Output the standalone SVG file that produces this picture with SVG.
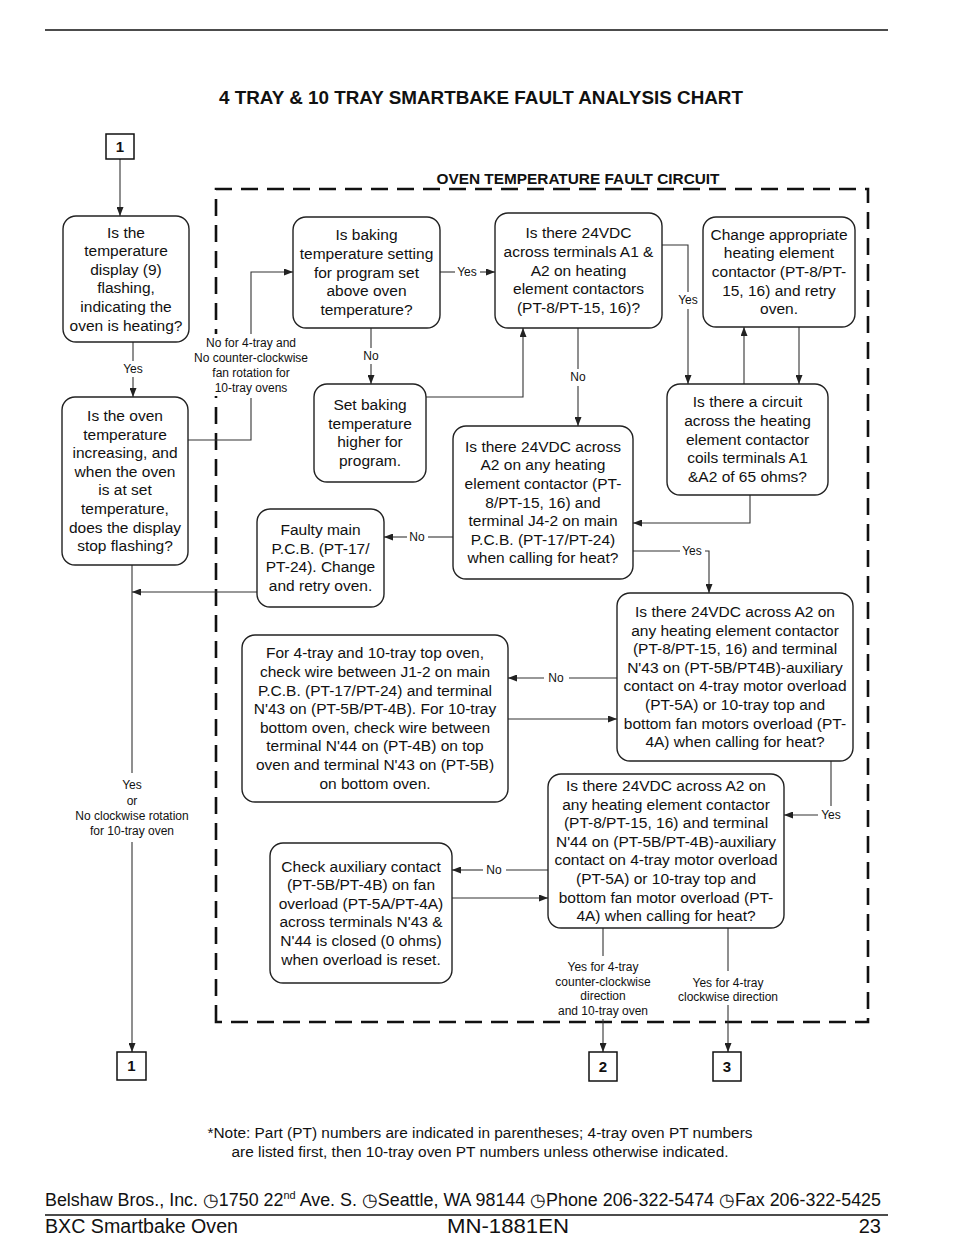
<svg xmlns="http://www.w3.org/2000/svg" width="954" height="1260" viewBox="0 0 954 1260">
<style>
text{font-family:"Liberation Sans",Arial,sans-serif;fill:#111}
.nt{font-size:15.5px;text-anchor:middle}
.lb{font-size:12px;text-anchor:middle}
.sl{font-size:12px;text-anchor:middle}
.node{fill:#fff;stroke:#222;stroke-width:1.4}
.term{fill:#fff;stroke:#111;stroke-width:1.5}
.tn{font-size:15px;font-weight:bold;text-anchor:middle}
.cn{fill:none;stroke:#333;stroke-width:1.1}
.dash{fill:none;stroke:#111;stroke-width:2.6;stroke-dasharray:17 9}
</style>
<defs>
<marker id="ah" viewBox="0 0 9 7" refX="9" refY="3.5" markerWidth="9" markerHeight="7" markerUnits="userSpaceOnUse" orient="auto">
<path d="M0,0 L9,3.5 L0,7 z" fill="#222"/>
</marker>
</defs>
<rect width="954" height="1260" fill="#fff"/>

<!-- header -->
<line x1="45" y1="30" x2="888" y2="30" stroke="#111" stroke-width="1.5"/>
<text x="481" y="104" font-size="18" font-weight="bold" text-anchor="middle" textLength="524" lengthAdjust="spacingAndGlyphs">4 TRAY &amp; 10 TRAY SMARTBAKE FAULT ANALYSIS CHART</text>

<!-- fault circuit boundary -->
<g id="circuit">
<path class="dash" d="M216,1022 V189 H868 V1022 Z"/>
<text x="578" y="184" font-size="15" font-weight="bold" text-anchor="middle" textLength="283" lengthAdjust="spacingAndGlyphs">OVEN TEMPERATURE FAULT CIRCUIT</text>
</g>

<!-- connectors -->
<g id="connectors">
<path class="cn" d="M120,159 V216" marker-end="url(#ah)"/>
<path class="cn" d="M133,342 V361"/>
<path class="cn" d="M133,377 V397" marker-end="url(#ah)"/>
<path class="cn" d="M188,440 H251 V398"/>
<path class="cn" d="M251,335 V272 H293" marker-end="url(#ah)"/>
<path class="cn" d="M440,272 H455"/>
<path class="cn" d="M480,272 H495" marker-end="url(#ah)"/>
<path class="cn" d="M371,328 V348"/>
<path class="cn" d="M371,364 V384" marker-end="url(#ah)"/>
<path class="cn" d="M426,397 H523 V328" marker-end="url(#ah)"/>
<path class="cn" d="M578,328 V369"/>
<path class="cn" d="M578,386 V426" marker-end="url(#ah)"/>
<path class="cn" d="M662,245 H688 V292"/>
<path class="cn" d="M688,309 V384" marker-end="url(#ah)"/>
<path class="cn" d="M744,384 V327" marker-end="url(#ah)"/>
<path class="cn" d="M799,327 V384" marker-end="url(#ah)"/>
<path class="cn" d="M750,495 V523 H633" marker-end="url(#ah)"/>
<path class="cn" d="M453,537 H428"/>
<path class="cn" d="M407,537 H384" marker-end="url(#ah)"/>
<path class="cn" d="M257,592 H132" marker-end="url(#ah)"/>
<path class="cn" d="M633,551 H680"/>
<path class="cn" d="M705,551 H709 V593" marker-end="url(#ah)"/>
<path class="cn" d="M617,678 H569"/>
<path class="cn" d="M544,678 H508" marker-end="url(#ah)"/>
<path class="cn" d="M508,719 H617" marker-end="url(#ah)"/>
<path class="cn" d="M831,761 V806"/>
<path class="cn" d="M818,815 H784" marker-end="url(#ah)"/>
<path class="cn" d="M548,870 H506"/>
<path class="cn" d="M483,870 H452" marker-end="url(#ah)"/>
<path class="cn" d="M452,898 H548" marker-end="url(#ah)"/>
<path class="cn" d="M132,565 V773"/>
<path class="cn" d="M132,842 V1052" marker-end="url(#ah)"/>
<path class="cn" d="M603,928 V956"/>
<path class="cn" d="M603,1019 V1052" marker-end="url(#ah)"/>
<path class="cn" d="M728,928 V971"/>
<path class="cn" d="M728,1005 V1052" marker-end="url(#ah)"/>

<rect x="186" y="334" width="130" height="62" fill="#fff"/>
<text class="sl"><tspan x="251" y="346.5">No for 4-tray and</tspan><tspan x="251" dy="15">No counter-clockwise</tspan><tspan x="251" dy="15">fan rotation for</tspan><tspan x="251" dy="15">10-tray ovens</tspan></text>
<text class="lb" x="133" y="373">Yes</text>
<text class="lb" x="371" y="360">No</text>
<text class="lb" x="467" y="276">Yes</text>
<text class="lb" x="688" y="304">Yes</text>
<text class="lb" x="578" y="381">No</text>
<text class="lb" x="417" y="541">No</text>
<text class="lb" x="692" y="555">Yes</text>
<text class="lb" x="556" y="682">No</text>
<text class="lb" x="831" y="819">Yes</text>
<text class="lb" x="494" y="874">No</text>
<text class="sl"><tspan x="132" y="789">Yes</tspan><tspan x="132" dy="16">or</tspan><tspan x="132" dy="14.5">No clockwise rotation</tspan><tspan x="132" dy="15">for 10-tray oven</tspan></text>
<text class="sl"><tspan x="603" y="970.5">Yes for 4-tray</tspan><tspan x="603" dy="15">counter-clockwise</tspan><tspan x="603" dy="14.5">direction</tspan><tspan x="603" dy="14.5">and 10-tray oven</tspan></text>
<text class="sl"><tspan x="728" y="986.5">Yes for 4-tray</tspan><tspan x="728" dy="14.5">clockwise direction</tspan></text>
</g>

<!-- terminals -->
<g id="t1top"><rect class="term" x="106" y="134" width="28" height="25"/><text class="tn" x="120" y="152">1</text></g>
<g id="t1bot"><rect class="term" x="117" y="1052" width="29" height="28"/><text class="tn" x="131.5" y="1071">1</text></g>
<g id="t2"><rect class="term" x="589" y="1052" width="28" height="29"/><text class="tn" x="603" y="1071.5">2</text></g>
<g id="t3"><rect class="term" x="713" y="1052" width="28" height="29"/><text class="tn" x="727" y="1071.5">3</text></g>

<!-- nodes -->
<g id="nA"><rect class="node" x="63" y="216" width="126" height="126" rx="13"/>
<text class="nt"><tspan x="126" y="237.5">Is the</tspan><tspan x="126" dy="18.6">temperature</tspan><tspan x="126" dy="18.6">display (9)</tspan><tspan x="126" dy="18.6">flashing,</tspan><tspan x="126" dy="18.6">indicating the</tspan><tspan x="126" dy="18.6">oven is heating?</tspan></text></g>

<g id="nB"><rect class="node" x="62" y="397" width="126" height="168" rx="13"/>
<text class="nt"><tspan x="125" y="420.9">Is the oven</tspan><tspan x="125" dy="18.6">temperature</tspan><tspan x="125" dy="18.6">increasing, and</tspan><tspan x="125" dy="18.6">when the oven</tspan><tspan x="125" dy="18.6">is at set</tspan><tspan x="125" dy="18.6">temperature,</tspan><tspan x="125" dy="18.6">does the display</tspan><tspan x="125" dy="18.6">stop flashing?</tspan></text></g>

<g id="nC"><rect class="node" x="293" y="217" width="147" height="111" rx="13"/>
<text class="nt"><tspan x="366.5" y="240.3">Is baking</tspan><tspan x="366.5" dy="18.6">temperature setting</tspan><tspan x="366.5" dy="18.6">for program set</tspan><tspan x="366.5" dy="18.6">above oven</tspan><tspan x="366.5" dy="18.6">temperature?</tspan></text></g>

<g id="nD"><rect class="node" x="495" y="213" width="167" height="115" rx="13"/>
<text class="nt"><tspan x="578.5" y="238.3">Is there 24VDC</tspan><tspan x="578.5" dy="18.6">across terminals A1 &amp;</tspan><tspan x="578.5" dy="18.6">A2 on heating</tspan><tspan x="578.5" dy="18.6">element contactors</tspan><tspan x="578.5" dy="18.6">(PT-8/PT-15, 16)?</tspan></text></g>

<g id="nF"><rect class="node" x="703" y="217" width="152" height="110" rx="13"/>
<text class="nt"><tspan x="779" y="239.8">Change appropriate</tspan><tspan x="779" dy="18.6">heating element</tspan><tspan x="779" dy="18.6">contactor (PT-8/PT-</tspan><tspan x="779" dy="18.6">15, 16) and retry</tspan><tspan x="779" dy="18.6">oven.</tspan></text></g>

<g id="nE"><rect class="node" x="667" y="384" width="161" height="111" rx="13"/>
<text class="nt"><tspan x="747.5" y="407.3">Is there a circuit</tspan><tspan x="747.5" dy="18.6">across the heating</tspan><tspan x="747.5" dy="18.6">element contactor</tspan><tspan x="747.5" dy="18.6">coils terminals A1</tspan><tspan x="747.5" dy="18.6">&amp;A2 of 65 ohms?</tspan></text></g>

<g id="nH"><rect class="node" x="314" y="384" width="112" height="98" rx="13"/>
<text class="nt"><tspan x="370" y="410.1">Set baking</tspan><tspan x="370" dy="18.6">temperature</tspan><tspan x="370" dy="18.6">higher for</tspan><tspan x="370" dy="18.6">program.</tspan></text></g>

<g id="nG"><rect class="node" x="453" y="426" width="180" height="153" rx="13"/>
<text class="nt"><tspan x="543" y="451.7">Is there 24VDC across</tspan><tspan x="543" dy="18.6">A2 on any heating</tspan><tspan x="543" dy="18.6">element contactor (PT-</tspan><tspan x="543" dy="18.6">8/PT-15, 16) and</tspan><tspan x="543" dy="18.6">terminal J4-2 on main</tspan><tspan x="543" dy="18.6">P.C.B. (PT-17/PT-24)</tspan><tspan x="543" dy="18.6">when calling for heat?</tspan></text></g>

<g id="nI"><rect class="node" x="257" y="509" width="127" height="98" rx="13"/>
<text class="nt"><tspan x="320.5" y="535.1">Faulty main</tspan><tspan x="320.5" dy="18.6">P.C.B. (PT-17/</tspan><tspan x="320.5" dy="18.6">PT-24). Change</tspan><tspan x="320.5" dy="18.6">and retry oven.</tspan></text></g>

<g id="nJ"><rect class="node" x="242" y="635" width="266" height="167" rx="13"/>
<text class="nt"><tspan x="375" y="658.4">For 4-tray and 10-tray top oven,</tspan><tspan x="375" dy="18.6">check wire between J1-2 on main</tspan><tspan x="375" dy="18.6">P.C.B. (PT-17/PT-24) and terminal</tspan><tspan x="375" dy="18.6">N'43 on (PT-5B/PT-4B). For 10-tray</tspan><tspan x="375" dy="18.6">bottom oven, check wire between</tspan><tspan x="375" dy="18.6">terminal N'44 on (PT-4B) on top</tspan><tspan x="375" dy="18.6">oven and terminal N'43 on (PT-5B)</tspan><tspan x="375" dy="18.6">on bottom oven.</tspan></text></g>

<g id="nK"><rect class="node" x="617" y="593" width="236" height="168" rx="13"/>
<text class="nt"><tspan x="735" y="616.9">Is there 24VDC across A2 on</tspan><tspan x="735" dy="18.6">any heating element contactor</tspan><tspan x="735" dy="18.6">(PT-8/PT-15, 16) and terminal</tspan><tspan x="735" dy="18.6">N'43 on (PT-5B/PT4B)-auxiliary</tspan><tspan x="735" dy="18.6">contact on 4-tray motor overload</tspan><tspan x="735" dy="18.6">(PT-5A) or 10-tray top and</tspan><tspan x="735" dy="18.6">bottom fan motors overload (PT-</tspan><tspan x="735" dy="18.6">4A) when calling for heat?</tspan></text></g>

<g id="nL"><rect class="node" x="548" y="774" width="236" height="154" rx="13"/>
<text class="nt"><tspan x="666" y="790.9">Is there 24VDC across A2 on</tspan><tspan x="666" dy="18.6">any heating element contactor</tspan><tspan x="666" dy="18.6">(PT-8/PT-15, 16) and terminal</tspan><tspan x="666" dy="18.6">N'44 on (PT-5B/PT-4B)-auxiliary</tspan><tspan x="666" dy="18.6">contact on 4-tray motor overload</tspan><tspan x="666" dy="18.6">(PT-5A) or 10-tray top and</tspan><tspan x="666" dy="18.6">bottom fan motor overload (PT-</tspan><tspan x="666" dy="18.6">4A) when calling for heat?</tspan></text></g>

<g id="nM"><rect class="node" x="270" y="843" width="182" height="140" rx="13"/>
<text class="nt"><tspan x="361" y="871.5">Check auxiliary contact</tspan><tspan x="361" dy="18.6">(PT-5B/PT-4B) on fan</tspan><tspan x="361" dy="18.6">overload (PT-5A/PT-4A)</tspan><tspan x="361" dy="18.6">across terminals N'43 &amp;</tspan><tspan x="361" dy="18.6">N'44 is closed (0 ohms)</tspan><tspan x="361" dy="18.6">when overload is reset.</tspan></text></g>

<!-- footer -->
<text x="480" y="1138" font-size="14" text-anchor="middle" textLength="545" lengthAdjust="spacingAndGlyphs">*Note: Part (PT) numbers are indicated in parentheses; 4-tray oven PT numbers</text>
<text x="480" y="1157" font-size="14" text-anchor="middle" textLength="497" lengthAdjust="spacingAndGlyphs">are listed first, then 10-tray oven PT numbers unless otherwise indicated.</text>
<text x="45" y="1206" font-size="18" textLength="836" lengthAdjust="spacingAndGlyphs">Belshaw Bros., Inc. ◷1750 22<tspan dy="-7" font-size="11">nd</tspan><tspan dy="7"> Ave. S. ◷Seattle, WA 98144 ◷Phone 206-322-5474 ◷Fax 206-322-5425</tspan></text>
<line x1="45" y1="1215" x2="888" y2="1215" stroke="#111" stroke-width="1.5"/>
<text x="45" y="1233" font-size="20" textLength="193" lengthAdjust="spacingAndGlyphs">BXC Smartbake Oven</text>
<text x="508" y="1233" font-size="20" text-anchor="middle" textLength="122" lengthAdjust="spacingAndGlyphs">MN-1881EN</text>
<text x="881" y="1233" font-size="20" text-anchor="end">23</text>
</svg>
